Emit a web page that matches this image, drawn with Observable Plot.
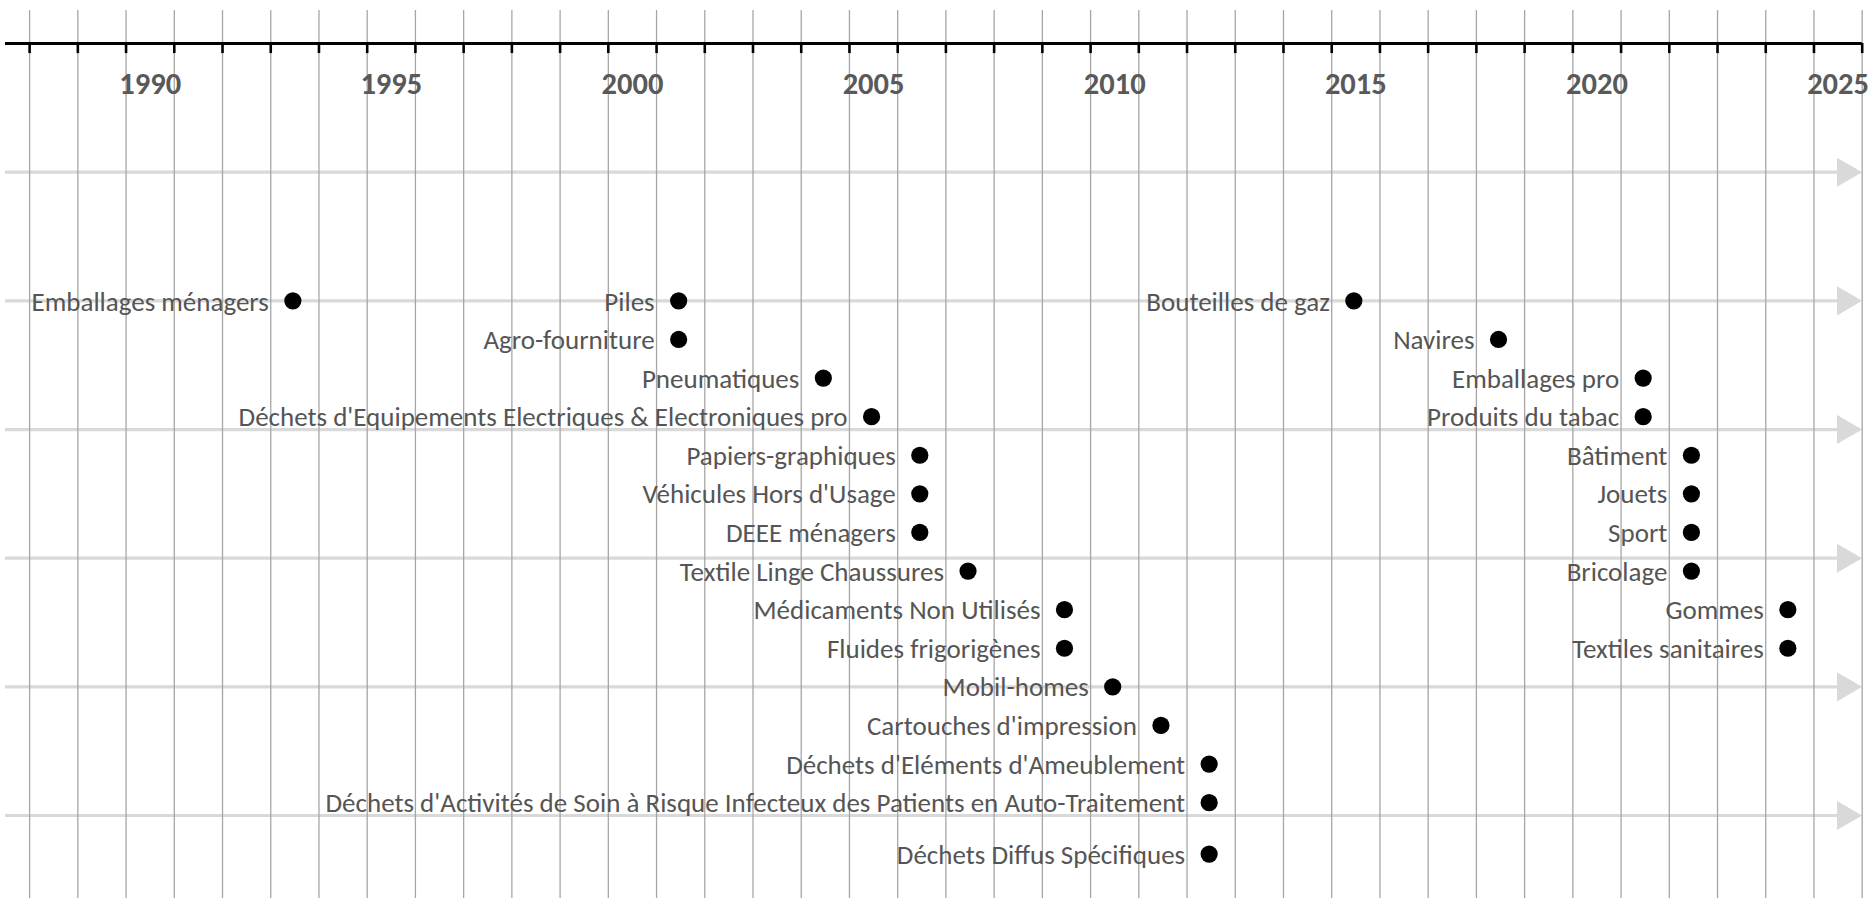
<!DOCTYPE html>
<html>
<head>
<meta charset="utf-8">
<script src="https://cdn.jsdelivr.net/npm/d3@7"></script>
<script src="https://cdn.jsdelivr.net/npm/@observablehq/plot@0.6"></script>
<style>
  html, body { margin: 0; padding: 0; background: #ffffff; }
  #chart svg { display: block; }
</style>
</head>
<body>
<div id="chart"></div>
<script>
// ---- Data ----
const filieres = [
  "Emballages ménagers", "Piles", "Agro-fourniture", "Pneumatiques",
  "Déchets d'Equipements Electriques & Electroniques pro", "Papiers-graphiques",
  "Véhicules Hors d'Usage", "DEEE ménagers", "Textile Linge Chaussures",
  "Médicaments Non Utilisés", "Fluides frigorigènes", "Mobil-homes",
  "Cartouches d'impression", "Déchets d'Eléments d'Ameublement",
  "Déchets d'Activités de Soin à Risque Infecteux des Patients en Auto-Traitement",
  "Déchets Diffus Spécifiques",
  "Bouteilles de gaz", "Navires", "Emballages pro", "Produits du tabac",
  "Bâtiment", "Jouets", "Sport", "Bricolage", "Gommes", "Textiles sanitaires"
];
const annees = [
  1993, 2001, 2001, 2004, 2005, 2006, 2006, 2006, 2007, 2009, 2009, 2010, 2011, 2012, 2012, 2012,
  2015, 2018, 2021, 2021, 2022, 2022, 2022, 2022, 2024, 2024
];
const niveaux = [
  -10, -10, -13, -16, -19, -22, -25, -28, -31, -34, -37, -40, -43, -46, -49, -53,
  -10, -13, -16, -19, -22, -25, -28, -31, -34, -37
];
const tickYears = [1990, 1995, 2000, 2005, 2010, 2015, 2020, 2025];
const tickLabels = ["1990", "1995", "2000", "2005", "2010", "2015", "2020", "2025"];
const hLines = [0, -10, -20, -30, -40, -50];

// ---- Build table ----
const rows = filieres.map((name, i) => ({name, year: annees[i], level: niveaux[i]}));
const ticks = tickYears.map((y, i) => ({year: y, label: tickLabels[i]}));

const xMin = 1987, xMax = 2025.5;
const yTop = 13.345, yBottom = -56.45;
const axisY = 10;
const gridTop = 12.57;
const bounds = d3.range(1987.5, 2026, 1); // year band boundaries

const labelFont = "Carlito, Calibri, Lato, sans-serif";

const chart = Plot.plot({
  width: 1868,
  height: 898,
  marginTop: 0, marginBottom: 0, marginLeft: 0, marginRight: 0,
  x: {domain: [xMin, xMax], range: [5, 1861.7], axis: null},
  y: {domain: [yBottom, yTop], range: [898, 0], axis: null},
  style: {background: "#ffffff", fontFamily: labelFont},
  marks: [
    // light grey horizontal arrows
    Plot.ruleY(hLines, {x1: xMin, x2: xMax, stroke: "#d9d9d9", strokeWidth: 3.2, insetRight: 20}),
    Plot.dot(hLines, {x: () => xMax, y: d => d, symbol: "triangle", rotate: 90, r: 10.8, fill: "#d9d9d9", stroke: null, dx: -16.8}),
    // vertical grid
    Plot.ruleX(bounds, {y1: gridTop, y2: yBottom, stroke: "#a6a6a6", strokeWidth: 1.3}),
    // axis line and ticks
    Plot.ruleY([axisY], {x1: xMin, x2: xMax, stroke: "#000000", strokeWidth: 3}),
    Plot.ruleX(bounds, {y1: axisY, y2: axisY - 0.78, stroke: "#000000", strokeWidth: 2.6}),
    // year labels
    Plot.text(ticks, {x: "year", y: () => axisY, text: "label", dy: 41, fontSize: 30.5, fontWeight: "bold", fill: "#595959", textAnchor: "middle", lineAnchor: "middle"}),
    // dots
    Plot.dot(rows, {x: "year", y: "level", r: 8.6, fill: "#000000", stroke: null, dx: -2}),
    // labels
    Plot.text(rows, {x: "year", y: "level", text: "name", textAnchor: "end", lineAnchor: "middle", dx: -26, dy: 1, fontSize: 27, fill: "#555555"})
  ]
});

document.getElementById("chart").appendChild(chart);
</script>
</body>
</html>
